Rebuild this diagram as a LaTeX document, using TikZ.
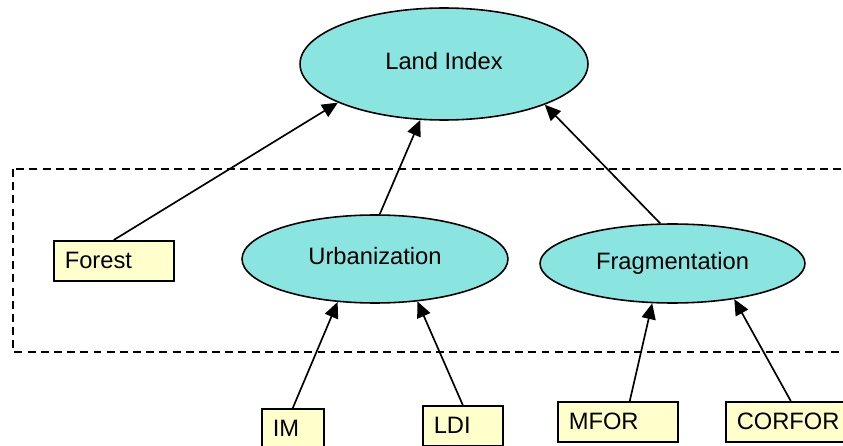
\documentclass[tikz,border=0pt]{standalone}
\usepackage{fontspec}
\setmainfont{Liberation Sans}
\usepackage{xcolor}
\usetikzlibrary{arrows.meta,positioning,shapes.geometric}
\definecolor{ccyan}{RGB}{138,228,224}
\definecolor{cyellow}{RGB}{255,255,204}

\begin{document}
\begin{tikzpicture}[x=0.02cm,y=-0.02cm,font=\fontsize{13.5}{16}\selectfont,
index/.style={ellipse,draw,line width=0.9pt,fill=ccyan,inner sep=0pt},
leaf/.style={rectangle,draw,line width=0.9pt,fill=cyellow,anchor=north west,
  minimum height=0.8cm,inner xsep=0.22cm,inner ysep=0pt,align=left},
group/.style={draw,line width=0.85pt,dash pattern=on 4.5pt off 3pt},
arr/.style={-{Triangle[length=9pt,width=8pt]},line width=0.95pt}]
\clip (0,0) rectangle (843,446);
\draw[group] (13,169) rectangle (870,352);
\node[index,minimum width=5.76cm,minimum height=2.24cm] (land) at (444,64) {\raisebox{3pt}{Land Index}};
\node[index,minimum width=5.32cm,minimum height=1.76cm] (urban) at (375,259) {\raisebox{3pt}{Urbanization}};
\node[index,minimum width=5.3cm,minimum height=1.58cm] (frag) at (672.5,263.5) {\raisebox{1.5pt}{Fragmentation}};
\node[leaf,text width=1.96cm] (forest) at (53,240) {Forest};
\node[leaf,text width=0.8cm] (im) at (261,408) {IM};
\node[leaf,text width=1.16cm] (ldi) at (422,405) {LDI};
\node[leaf,text width=1.96cm] (mfor) at (557,401) {MFOR};
\node[leaf,text width=2.16cm] (corfor) at (725,401) {CORFOR};
\draw[arr] (forest.north) -- (land.200);
\draw[arr] (urban.84) -- (land.247);
\draw[arr] (frag.107.6) -- (land.338);
\draw[arr] (im.north) -- (urban.229);
\draw[arr] (ldi.north) -- (urban.315);
\draw[arr] ([xshift=0.24cm]mfor.north) -- (frag.243);
\draw[arr] (corfor.north) -- (frag.330);
\end{tikzpicture}
\end{document}
